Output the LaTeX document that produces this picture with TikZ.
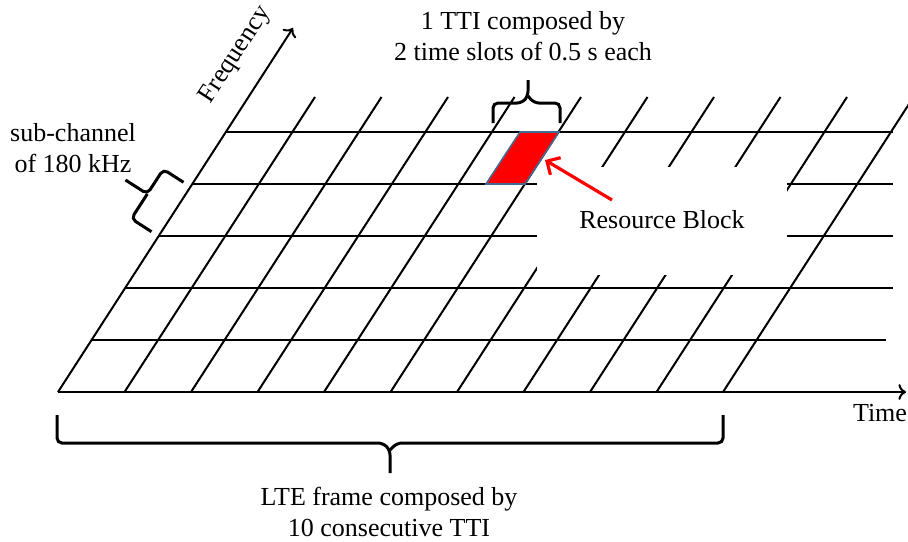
\documentclass[tikz,border=0pt]{standalone}
\usepackage{fontspec}
\setmainfont{Liberation Serif}
\usetikzlibrary{arrows.meta}
\definecolor{rbedge}{RGB}{65,105,145}

\begin{document}
\begin{tikzpicture}
  [x=0.5pt, y=-0.5pt,
   gridline/.style = {line width=1pt},
   brc/.style = {line width=1.5pt, rounded corners=2.5pt},
   lbl/.style = {font=\fontsize{13pt}{15.5pt}\selectfont, align=center, inner sep=0pt},
   rb/.style = {fill=red, draw=rbedge, line width=0.8pt}]
  \clip (0,0) rectangle (908,541);
  % axes
  \coordinate (o) at (58,392);
  \coordinate (f) at (293,28);
  \coordinate (t) at (906,392);
  \draw[gridline,->] (o) -- (f);
  \draw[gridline,->] (o) -- (t);
  % sub-channel rows
  \foreach \i/\xr in {1/886,2/893,3/893,4/893,5/893}
    \draw[gridline] ({58+33.6*\i},{392-52*\i}) -- (\xr,{392-52*\i});
  % TTI columns
  \foreach \k in {1,...,10}
    \draw[gridline] ({58+66.5*\k},392) -- ({248.5+66.5*\k},97);
  % blank behind the label
  \fill[white] (537,167) rectangle (787,275);
  % resource block
  \draw[rb] (520,132) -- (559,132) -- (525,184) -- (486,184) -- cycle;
  % braces
  \draw[brc] (493,123) -- (493,103) -- (522,103) -- (528,96) -- (528,80);
  \draw[brc] (560,123) -- (560,103) -- (534,103) -- (528,96);
  \draw[brc] (183.5,182.3) -- (163.3,169.3) -- (147.3,194) -- (125.5,180);
  \draw[brc] (147.3,194) -- (131.3,218.7) -- (151.5,231.7);
  \draw[brc] (57,415) -- (57,443) -- (383,443) -- (390,450) -- (390,473);
  \draw[brc] (723,415) -- (723,443) -- (397,443) -- (390,450);
  % labels
  \node[lbl, rotate=57] (freq) at (236,55) {Frequency};
  \node[lbl] (time) at (880,413) {Time};
  \node[lbl] (tti) at (523,36) {1 TTI composed by\\2 time slots of 0.5 s each};
  \node[lbl] (sub) at (73,148) {sub-channel\\of 180 kHz};
  \node[lbl] (rbl) at (662,220) {Resource Block};
  \node[lbl] (frame) at (389,512) {LTE frame composed by\\10 consecutive TTI};
  % pointer
  \coordinate (rbtail) at (612,200);
  \coordinate (rbtip) at (545,160);
  \draw[red, line width=1.6pt, -{Straight Barb[length=5pt,width=10pt]}] (rbtail) -- (rbtip);
\end{tikzpicture}
\end{document}
